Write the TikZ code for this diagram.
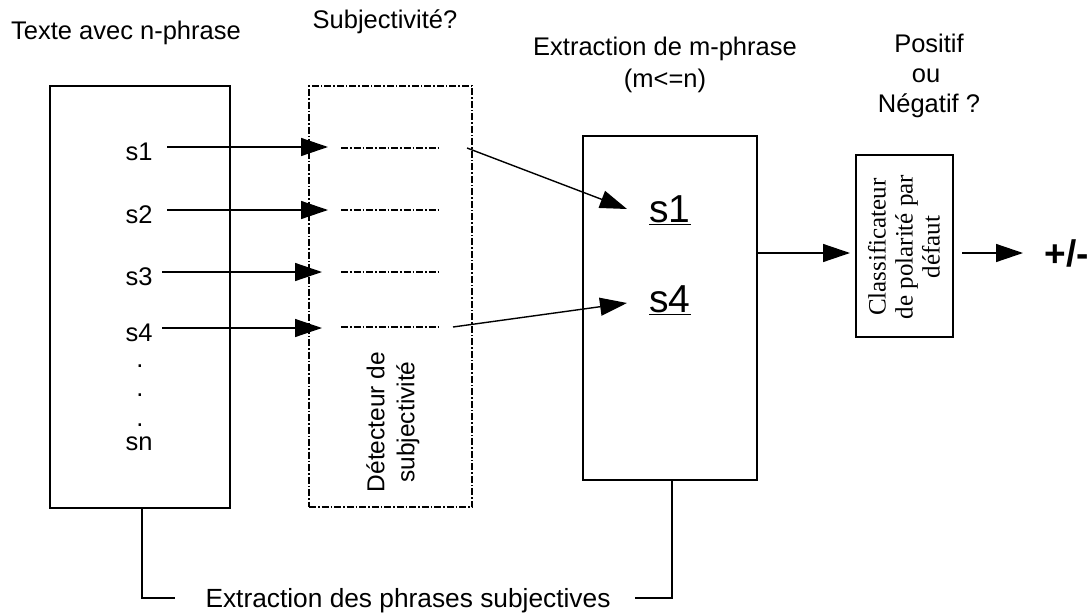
\documentclass[tikz,border=0pt]{standalone}
\usepackage{fontspec}
\setmainfont{Liberation Sans}
\newfontfamily\timesfont{Liberation Serif}
\usetikzlibrary{arrows.meta}
\begin{document}
\begin{tikzpicture}[x=1pt,y=-1pt,
  box/.style={draw, line width=1.4pt, inner sep=0pt, outer sep=0pt},
  dbox/.style={draw, line width=1.1pt, inner sep=0pt, outer sep=0pt,
    dash pattern=on 7pt off 2pt on 1.5pt off 2pt},
  dline/.style={line width=1.1pt, dash pattern=on 7pt off 2pt on 1.5pt off 2pt},
  arr/.style={line width=1.4pt, -{Triangle[length=27pt,width=18pt]}},
  ln/.style={line width=1.4pt},
  lbl/.style={font=\fontsize{25.5}{30}\selectfont, inner sep=0pt, anchor=base},
  big/.style={font=\fontsize{39}{42}\selectfont, inner sep=0pt, anchor=base},
]
\useasboundingbox (0,0) rectangle (1092,613);
% titles
\node[lbl] (t1) at (126,39) {Texte avec n-phrase};
\node[lbl] (t2) at (385,28) {Subjectivité?};
\node[lbl] (t3) at (665,55) {Extraction de m-phrase};
\node[lbl] (t3b) at (665,87) {(m<=n)};
\node[lbl] (t4) at (929,52) {Positif};
\node[lbl] (t4b) at (926,82) {ou};
\node[lbl] (t4c) at (929,112) {Négatif ?};
% boxes
\node[box, minimum width=180pt, minimum height=422pt] (L) at (140,297) {};
\node[dbox, minimum width=163pt, minimum height=421pt] (D) at (390.5,296.5) {};
\node[box, minimum width=174pt, minimum height=344pt] (M) at (670,308) {};
\node[box, minimum width=97pt, minimum height=182pt] (C) at (904.5,246) {};
% left texts
\node[lbl] (s1) at (139,160) {s1};
\node[lbl] (s2) at (139,223) {s2};
\node[lbl] (s3) at (139,285) {s3};
\node[lbl] (s4) at (139,341) {s4};
\node[lbl] (p1) at (140,367) {.};
\node[lbl] (p2) at (140,396) {.};
\node[lbl] (p3) at (140,426) {.};
\node[lbl] (sn) at (139,450) {sn};
% detector
\coordinate (a1) at (167,147); \coordinate (b1) at (328,147);
\coordinate (a2) at (167,210); \coordinate (b2) at (328,210);
\coordinate (a3) at (162,272); \coordinate (b3) at (322,272);
\coordinate (a4) at (162,328); \coordinate (b4) at (322,328);
\draw[arr] (a1) -- (b1);
\draw[arr] (a2) -- (b2);
\draw[arr] (a3) -- (b3);
\draw[arr] (a4) -- (b4);
\coordinate (l1) at (341,148); \coordinate (r1) at (440,148);
\coordinate (l2) at (341,210); \coordinate (r2) at (440,210);
\coordinate (l3) at (341,272); \coordinate (r3) at (440,272);
\coordinate (l4) at (341,327); \coordinate (r4) at (440,327);
\draw[dline] (l1) -- (r1);
\draw[dline] (l2) -- (r2);
\draw[dline] (l3) -- (r3);
\draw[dline] (l4) -- (r4);
\node[rotate=90, align=center, inner sep=0pt, font=\fontsize{24.5}{30}\selectfont] (dt) at (393,422) {Détecteur de\\subjectivité};
% middle
\node[big] (m1) at (670,222) {\underline{s1}};
\node[big] (m4) at (670,312) {\underline{s4}};
\coordinate (e1) at (467,148); \coordinate (f1) at (627,209);
\coordinate (e4) at (453,327); \coordinate (f4) at (627,303);
\draw[arr] (e1) -- (f1);
\draw[arr] (e4) -- (f4);
% classifier
\node[rotate=90, align=center, inner sep=0pt, font=\timesfont\fontsize{25}{27}\selectfont] (ct) at (904,247) {Classificateur\\de polarité par\\défaut};
\draw[arr] (M.east |- 0,253) -- (850,253) coordinate (cin);
\coordinate (co) at (962,253);
\draw[arr] (co) -- (1023,253);
\node[font=\bfseries\fontsize{37}{40}\selectfont, inner sep=0pt] (pm) at (1067,253) {+/-};
% bottom bracket
\node[lbl, font=\fontsize{26.3}{30}\selectfont] (bt) at (408,607) {Extraction des phrases subjectives};
\draw[ln] (L.south -| 142,0) -- (142,598) -- (175,598);
\draw[ln] (635,598) -- (672,598) -- (M.south -| 672,0);
\end{tikzpicture}
\end{document}
